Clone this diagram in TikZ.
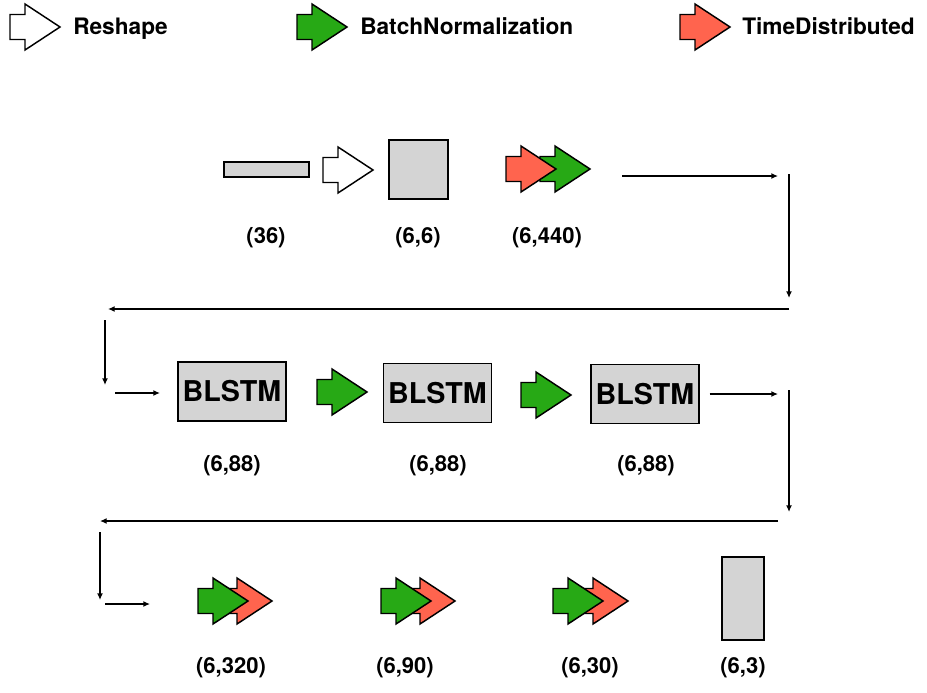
\documentclass[tikz,border=0pt]{standalone}
\usepackage{fontspec}
\setmainfont{TeX Gyre Heros}
\usepackage{xcolor}
\usepackage{tikz}
\usetikzlibrary{positioning,arrows.meta,calc}
\definecolor{bnorm}{HTML}{27A915}
\definecolor{tdist}{HTML}{FF644E}
\definecolor{tensor}{HTML}{D4D4D4}

\begin{document}
\begin{tikzpicture}[x=0.75pt, y=-0.75pt,
  blockarr/.pic={\draw[line width=1.1pt, fill=#1] (0,-12.5) -- (15,-12.5) -- (15,-23) -- (50,0) -- (15,23) -- (15,12.5) -- (0,12.5) -- cycle;},
  blob/.style={draw, line width=1.1pt, fill=tensor, inner sep=0pt},
  lstm/.style={blob, minimum width=81pt, minimum height=44.5pt, font=\fontsize{21.5}{24}\selectfont\bfseries},
  legend/.style={anchor=base west, inner sep=0pt, font=\fontsize{17}{19}\selectfont\bfseries},
  dimlbl/.style={font=\fontsize{16.5}{18}\selectfont\bfseries},
  flow/.style={line width=1.1pt, -{Latex[length=5pt,width=4.5pt]}}]
\useasboundingbox (0,0) rectangle (927,692);
% legend
\pic at (10,27) {blockarr=white};
\node[legend] (lgreshape) at (73,35) {Reshape};
\pic at (297,27) {blockarr=bnorm};
\node[legend] (lgbn) at (360,35) {BatchNormalization};
\pic at (680,27) {blockarr=tdist};
\node[legend] (lgtd) at (742,35) {TimeDistributed};
% row 1
\node[blob, minimum width=63.75pt, minimum height=11.25pt] (inp) at (266.5,169.5) {};
\pic at (323,170) {blockarr=white};
\node[blob, minimum width=44.25pt, minimum height=44.25pt] (sq) at (418.5,169.5) {};
\pic at (540,169) {blockarr=bnorm};
\pic at (506,169) {blockarr=tdist};
\node[dimlbl] (s36) at (266,238) {(36)};
\node[dimlbl] (s66) at (418,238) {(6,6)};
\node[dimlbl] (s440) at (547,238) {(6,440)};
\coordinate (a0) at (622,176); \coordinate (a1) at (778,176);
\coordinate (b0) at (789,174); \coordinate (b1) at (789,298);
\coordinate (c0) at (789,309); \coordinate (c1) at (108,309);
\coordinate (d0) at (105,320); \coordinate (d1) at (105,385);
\coordinate (e0) at (115,393); \coordinate (e1) at (160,393);
\draw[flow] (a0) -- (a1);
\draw[flow] (b0) -- (b1);
\draw[flow] (c0) -- (c1);
\draw[flow] (d0) -- (d1);
\draw[flow] (e0) -- (e1);
% row 2
\node[lstm] (lstm1) at (232,391.5) {BLSTM};
\pic at (317,392) {blockarr=bnorm};
\node[lstm] (lstm2) at (437.5,393) {BLSTM};
\pic at (521,395) {blockarr=bnorm};
\node[lstm] (lstm3) at (645,394) {BLSTM};
\node[dimlbl] (s88a) at (232,466) {(6,88)};
\node[dimlbl] (s88b) at (438,466) {(6,88)};
\node[dimlbl] (s88c) at (646,466) {(6,88)};
\coordinate (f1) at (778,394);
\coordinate (g0) at (789,390); \coordinate (g1) at (789,512);
\coordinate (h0) at (778,521); \coordinate (h1) at (100,521);
\coordinate (i0) at (100,532); \coordinate (i1) at (100,600);
\coordinate (j0) at (105,604); \coordinate (j1) at (150,604);
\draw[flow] ([xshift=7.5pt]lstm3.east) -- (f1);
\draw[flow] (g0) -- (g1);
\draw[flow] (h0) -- (h1);
\draw[flow] (i0) -- (i1);
\draw[flow] (j0) -- (j1);
% row 3
\pic at (222,601) {blockarr=tdist};
\pic at (198,601) {blockarr=bnorm};
\pic at (405,601) {blockarr=tdist};
\pic at (381,601) {blockarr=bnorm};
\pic at (578,601) {blockarr=tdist};
\pic at (553,601) {blockarr=bnorm};
\node[blob, minimum width=31.5pt, minimum height=62.25pt] (outp) at (743,598.5) {};
\node[dimlbl] (s320) at (231,668) {(6,320)};
\node[dimlbl] (s90) at (405,668) {(6,90)};
\node[dimlbl] (s30) at (590,668) {(6,30)};
\node[dimlbl] (s3) at (743,668) {(6,3)};
\end{tikzpicture}
\end{document}
